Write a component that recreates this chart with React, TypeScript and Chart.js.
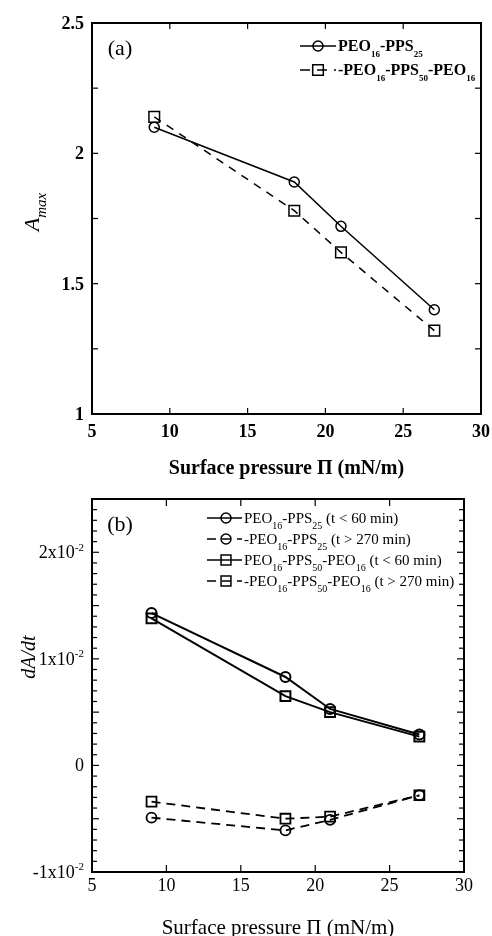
import React, { useEffect, useRef } from 'react';
import Chart from 'chart.js/auto';

// ---------- data ----------
const pressure = [9, 18, 21, 27];
const amaxDiblock = [2.10, 1.89, 1.72, 1.40];
const amaxTriblock = [2.14, 1.78, 1.62, 1.32];
const rateDiblockEarly = [0.0143, 0.0083, 0.0053, 0.0029];
const rateDiblockLate = [-0.0049, -0.0061, -0.0051, -0.0028];
const rateTriblockEarly = [0.0138, 0.0065, 0.0050, 0.0027];
const rateTriblockLate = [-0.0034, -0.0050, -0.0048, -0.0028];

const namesA = ['PEO_{16}-PPS_{25}', '-PEO_{16}-PPS_{50}-PEO_{16}'];
const namesB = [
  'PEO_{16}-PPS_{25} (t < 60 min)',
  '-PEO_{16}-PPS_{25} (t > 270 min)',
  'PEO_{16}-PPS_{50}-PEO_{16} (t < 60 min)',
  '-PEO_{16}-PPS_{50}-PEO_{16} (t > 270 min)',
];
const xTickValues = [5, 10, 15, 20, 25, 30];
const xTickLabels = ['5', '10', '15', '20', '25', '30'];
const yTickValuesA = [1, 1.5, 2, 2.5];
const yTickLabelsA = ['1', '1.5', '2', '2.5'];
const yTickValuesB = [-0.01, 0, 0.01, 0.02];
const yTickLabelsB = ['-1x10^{-2}', '0', '1x10^{-2}', '2x10^{-2}'];
const xTitle = 'Surface pressure Π (mN/m)';

const FAMILY = '"Liberation Serif", "Times New Roman", serif';

type Part = { t: string; k: 'n' | 'sub' | 'sup' };
function parseRich(s: string): Part[] {
  const parts: Part[] = [];
  const re = /([_^])\{([^}]*)\}/g;
  let last = 0;
  let m: RegExpExecArray | null;
  while ((m = re.exec(s))) {
    if (m.index > last) parts.push({ t: s.slice(last, m.index), k: 'n' });
    parts.push({ t: m[2], k: m[1] === '_' ? 'sub' : 'sup' });
    last = re.lastIndex;
  }
  if (last < s.length) parts.push({ t: s.slice(last), k: 'n' });
  return parts;
}

type RichOpt = {
  size: number; small: number; weight?: string; style?: string;
  align?: 'left' | 'right' | 'center'; subDy: number; supDy: number;
};
function drawRich(ctx: CanvasRenderingContext2D, text: string, x: number, y: number, o: RichOpt) {
  const parts = parseRich(text);
  const font = (k: string) => `${o.style || 'normal'} ${o.weight || 'normal'} ${k === 'n' ? o.size : o.small}px ${FAMILY}`;
  let w = 0;
  for (const p of parts) { ctx.font = font(p.k); w += ctx.measureText(p.t).width; }
  let cx = o.align === 'right' ? x - w : o.align === 'center' ? x - w / 2 : x;
  ctx.textAlign = 'left';
  ctx.textBaseline = 'alphabetic';
  for (const p of parts) {
    ctx.font = font(p.k);
    const dy = p.k === 'sub' ? o.subDy : p.k === 'sup' ? -o.supDy : 0;
    ctx.fillText(p.t, cx, y + dy);
    cx += ctx.measureText(p.t).width;
  }
}

function line(ctx: CanvasRenderingContext2D, x1: number, y1: number, x2: number, y2: number) {
  ctx.beginPath(); ctx.moveTo(x1, y1); ctx.lineTo(x2, y2); ctx.stroke();
}

function drawMarker(ctx: CanvasRenderingContext2D, style: string, x: number, y: number, r: number, lw: number) {
  ctx.save();
  ctx.setLineDash([]);
  ctx.lineWidth = lw;
  ctx.beginPath();
  if (style === 'circle') ctx.arc(x, y, r, 0, Math.PI * 2);
  else { const s = r * Math.SQRT1_2; ctx.rect(x - s, y - s, 2 * s, 2 * s); }
  ctx.stroke();
  ctx.restore();
}

type PanelCfg = {
  weight: string;
  tickSize: number;
  titleSize: number;
  xLabelBase: number;
  xTitleBase: number;
  yLabelRight: number;
  yTicks: number[]; yLabels: string[];
  yMinor: number[]; yMajor: number[];
  majorLen: number; minorLen: number;
  yTitle: string; yTitleX: number; yTitleY: number; yTitleSize: number;
  panel: string; panelX: number; panelY: number;
  legend: { name: string; dash: number[]; marker: string; r: number }[];
  legX1: number; legX2: number; legMarkX: number; legTextX: number; legY0: number; legDy: number;
  legSize: number; legSmall: number; legLw: number; boxLw: number;
};

function makePlugin(cfg: PanelCfg) {
  return {
    id: 'panelDecor',
    afterDraw(chart: any) {
      const ctx: CanvasRenderingContext2D = chart.ctx;
      const { left, right, top, bottom } = chart.chartArea;
      const xs = chart.scales.x, ys = chart.scales.y;
      ctx.save();
      ctx.strokeStyle = '#000';
      ctx.fillStyle = '#000';
      ctx.setLineDash([]);
      ctx.lineWidth = cfg.boxLw;
      ctx.strokeRect(left, top, right - left, bottom - top);
      ctx.lineWidth = 1.2;
      // x ticks (inward, bottom & top)
      for (const v of xTickValues) {
        const px = xs.getPixelForValue(v);
        line(ctx, px, bottom, px, bottom - cfg.majorLen);
        line(ctx, px, top, px, top + cfg.majorLen);
      }
      // y ticks
      for (const v of cfg.yMinor) {
        const py = ys.getPixelForValue(v);
        line(ctx, left, py, left + cfg.minorLen, py);
        line(ctx, right, py, right - cfg.minorLen, py);
      }
      for (const v of cfg.yMajor) {
        const py = ys.getPixelForValue(v);
        line(ctx, left, py, left + cfg.majorLen, py);
        line(ctx, right, py, right - cfg.majorLen, py);
      }
      // tick labels
      xTickValues.forEach((v, i) => {
        const px = xs.getPixelForValue(v);
        ctx.font = `${cfg.weight} ${cfg.tickSize}px ${FAMILY}`;
        ctx.textAlign = 'center';
        ctx.textBaseline = 'alphabetic';
        ctx.fillText(xTickLabels[i], px, cfg.xLabelBase);
      });
      cfg.yTicks.forEach((v, i) => {
        const py = ys.getPixelForValue(v);
        drawRich(ctx, cfg.yLabels[i], cfg.yLabelRight, py + cfg.tickSize * 0.33, {
          size: cfg.tickSize, small: Math.round(cfg.tickSize * 0.62), weight: cfg.weight,
          align: 'right', subDy: 4, supDy: cfg.tickSize * 0.42,
        });
      });
      // x title
      ctx.font = `${cfg.weight} ${cfg.titleSize}px ${FAMILY}`;
      ctx.textAlign = 'center';
      ctx.fillText(xTitle, (left + right) / 2, cfg.xTitleBase);
      // y title (rotated)
      ctx.save();
      ctx.translate(cfg.yTitleX, cfg.yTitleY);
      ctx.rotate(-Math.PI / 2);
      drawRich(ctx, cfg.yTitle, 0, cfg.yTitleSize * 0.33, {
        size: cfg.yTitleSize, small: Math.round(cfg.yTitleSize * 0.68), style: 'italic',
        align: 'center', subDy: cfg.yTitleSize * 0.3, supDy: 6,
      });
      ctx.restore();
      // panel label
      ctx.font = `normal 22px ${FAMILY}`;
      ctx.textAlign = 'center';
      ctx.fillText(cfg.panel, cfg.panelX, cfg.panelY);
      // legend
      cfg.legend.forEach((e, i) => {
        const y = cfg.legY0 + i * cfg.legDy;
        ctx.lineWidth = cfg.legLw;
        ctx.setLineDash(e.dash);
        line(ctx, cfg.legX1, y, cfg.legX2, y);
        ctx.setLineDash([]);
        drawMarker(ctx, e.marker, cfg.legMarkX, y, e.r, cfg.legLw);
        drawRich(ctx, e.name, cfg.legTextX, y + cfg.legSize * 0.33, {
          size: cfg.legSize, small: cfg.legSmall, weight: cfg.weight, align: 'left',
          subDy: cfg.legSize * 0.38, supDy: 5,
        });
      });
      ctx.restore();
    },
  };
}

function ds(ys: number[], dash: number[], marker: string, r: number, lw: number) {
  return {
    data: pressure.map((x, i) => ({ x, y: ys[i] })),
    showLine: true,
    borderColor: '#000',
    borderWidth: lw,
    borderDash: dash,
    pointStyle: marker === 'circle' ? 'circle' : 'rect',
    pointRadius: r,
    pointBorderWidth: lw,
    pointBorderColor: '#000',
    pointBackgroundColor: 'rgba(0,0,0,0)',
    fill: false,
    tension: 0,
  };
}

function Panel(props: { height: number; top: number; datasets: any[]; xMin: number; xMax: number; yMin: number; yMax: number; padding: any; cfg: PanelCfg }) {
  const ref = useRef<HTMLCanvasElement | null>(null);
  useEffect(() => {
    if (!ref.current) return;
    const chart = new Chart(ref.current, {
      type: 'scatter',
      data: { datasets: props.datasets },
      options: {
        animation: false,
        responsive: false,
        events: [],
        layout: { padding: props.padding },
        plugins: { legend: { display: false }, tooltip: { enabled: false } },
        scales: {
          x: { type: 'linear', display: false, min: props.xMin, max: props.xMax },
          y: { type: 'linear', display: false, min: props.yMin, max: props.yMax },
        },
      } as any,
      plugins: [makePlugin(props.cfg) as any],
    });
    return () => chart.destroy();
  }, []);
  return (
    <canvas
      ref={ref}
      width={492}
      height={props.height}
      style={{ position: 'absolute', left: 0, top: props.top, width: 492, height: props.height }}
    />
  );
}

export default function App() {
  const yMinorA = [1.25, 1.75, 2.25];
  const yMajorA = yTickValuesA;
  const yMinorB: number[] = [];
  const yMajorB: number[] = [];
  for (let i = 0; i <= 35; i++) {
    const v = Math.round((-0.01 + i * 0.001) * 1e6) / 1e6;
    if (i % 5 === 0) yMajorB.push(v); else yMinorB.push(v);
  }

  const cfgA: PanelCfg = {
    weight: 'bold', tickSize: 18, titleSize: 20,
    xLabelBase: 437, xTitleBase: 474, yLabelRight: 84,
    yTicks: yTickValuesA, yLabels: yTickLabelsA, yMinor: yMinorA, yMajor: yMajorA,
    majorLen: 6, minorLen: 6,
    yTitle: 'A_{max}', yTitleX: 32, yTitleY: 212, yTitleSize: 22,
    panel: '(a)', panelX: 120, panelY: 55,
    legend: [
      { name: namesA[0], dash: [], marker: 'circle', r: 5 },
      { name: namesA[1], dash: [10, 7], marker: 'rect', r: 7.5 },
    ],
    legX1: 300, legX2: 336, legMarkX: 318, legTextX: 338, legY0: 46, legDy: 24,
    legSize: 16, legSmall: 9, legLw: 1.5, boxLw: 2,
  };
  const cfgB: PanelCfg = {
    weight: 'normal', tickSize: 18, titleSize: 21,
    xLabelBase: 411, xTitleBase: 454, yLabelRight: 84,
    yTicks: yTickValuesB, yLabels: yTickLabelsB, yMinor: yMinorB, yMajor: yMajorB,
    majorLen: 7, minorLen: 5,
    yTitle: 'dA/dt', yTitleX: 28, yTitleY: 177, yTitleSize: 20,
    panel: '(b)', panelX: 120, panelY: 51,
    legend: [
      { name: namesB[0], dash: [], marker: 'circle', r: 5 },
      { name: namesB[1], dash: [9, 6], marker: 'circle', r: 5 },
      { name: namesB[2], dash: [], marker: 'rect', r: 7 },
      { name: namesB[3], dash: [9, 6], marker: 'rect', r: 7 },
    ],
    legX1: 207, legX2: 242, legMarkX: 226, legTextX: 244, legY0: 38, legDy: 21,
    legSize: 15, legSmall: 10, legLw: 1.5, boxLw: 2,
  };

  const dsA = [
    ds(amaxDiblock, [], 'circle', 5, 1.5),
    ds(amaxTriblock, [8, 7], 'rect', 7.5, 1.5),
  ];
  const dsB = [
    ds(rateDiblockEarly, [], 'circle', 5, 2),
    ds(rateDiblockLate, [9, 6], 'circle', 5, 1.8),
    ds(rateTriblockEarly, [], 'rect', 7, 2),
    ds(rateTriblockLate, [9, 6], 'rect', 7, 1.8),
  ];

  return (
    <div style={{ position: 'absolute', left: 0, top: 0, width: 492, height: 936, background: '#fff' }}>
      <Panel height={480} top={0} datasets={dsA} xMin={5} xMax={30} yMin={1} yMax={2.5}
        padding={{ left: 92, right: 11, top: 23, bottom: 66 }} cfg={cfgA} />
      <Panel height={456} top={480} datasets={dsB} xMin={5} xMax={30} yMin={-0.01} yMax={0.025}
        padding={{ left: 92, right: 28, top: 19, bottom: 64 }} cfg={cfgB} />
    </div>
  );
}
